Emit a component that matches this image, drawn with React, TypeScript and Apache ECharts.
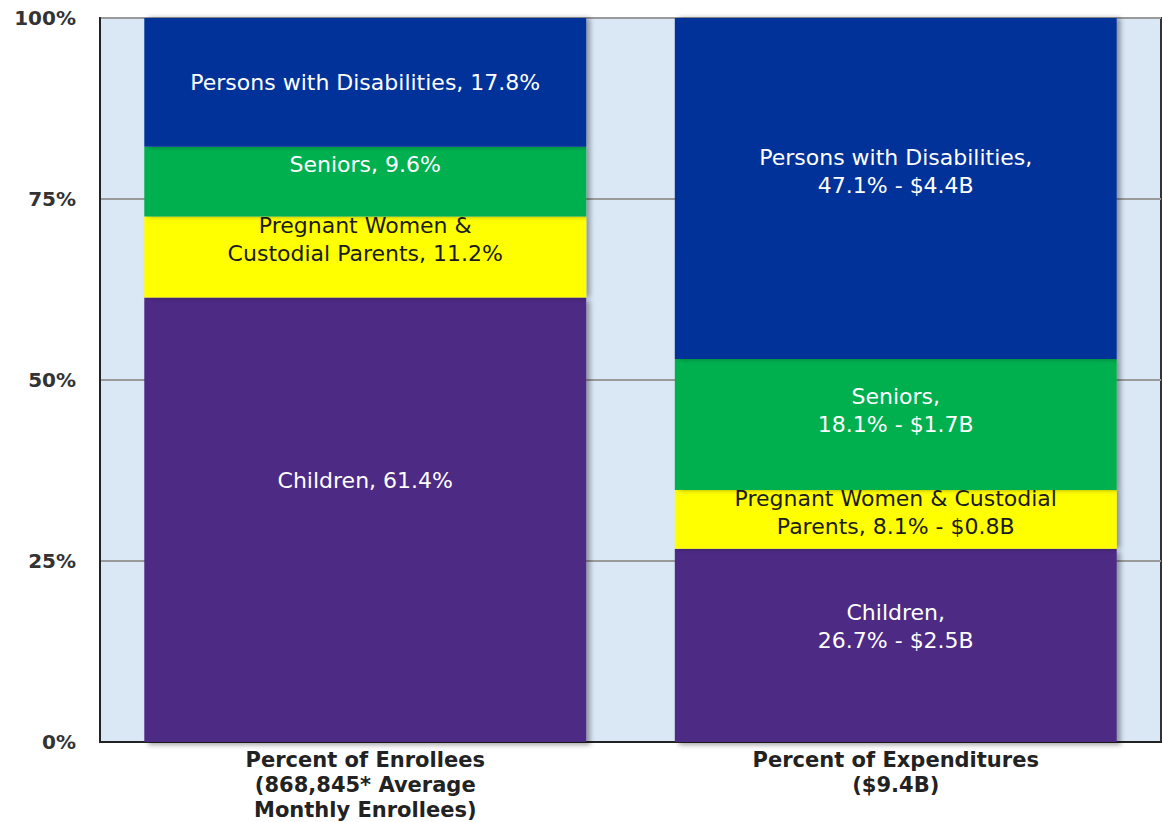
import React, { useEffect, useRef } from "react";
import * as echarts from "echarts";

const categories = [
  "Percent of Enrollees\n(868,845* Average\nMonthly Enrollees)",
  "Percent of Expenditures\n($9.4B)",
];
const seriesNames = [
  "Children",
  "Pregnant Women & Custodial Parents",
  "Seniors",
  "Persons with Disabilities",
];
const enrolleePct = [61.4, 11.2, 9.6, 17.8];
const expenditurePct = [26.7, 8.1, 18.1, 47.1];
const enrolleeLabels = [
  "Children, 61.4%",
  "Pregnant Women &\nCustodial Parents, 11.2%",
  "Seniors, 9.6%",
  "Persons with Disabilities, 17.8%",
];
const expenditureLabels = [
  "Children,\n26.7% - $2.5B",
  "Pregnant Women & Custodial\nParents, 8.1% - $0.8B",
  "Seniors,\n18.1% - $1.7B",
  "Persons with Disabilities,\n47.1% - $4.4B",
];
const yTicks = [0, 25, 50, 75, 100];

// styling
const colors = ["#4E2A84", "#FFFF00", "#00B050", "#003399"];
const labelColors = ["#FFFFFF", "#1A1A1A", "#FFFFFF", "#FFFFFF"];
const labelOffsets = [
  [-39, -19],
  [-17, -7],
  [-17, -14],
  [0, -17],
];

export default function App() {
  const ref = useRef<HTMLDivElement>(null);
  useEffect(() => {
    if (!ref.current) return;
    const chart = echarts.init(ref.current, null, { renderer: "svg" });
    const series = seriesNames.map((name, i) => ({
      name,
      type: "bar",
      stack: "total",
      barWidth: "83.3%",
      z: 2,
      itemStyle: {
        color: colors[i],
        shadowColor: "rgba(0,0,0,0.35)",
        shadowBlur: 5,
        shadowOffsetX: 4,
        shadowOffsetY: i === 0 ? 3 : 0,
      },
      label: {
        show: true,
        position: "inside",
        fontFamily: "DejaVu Sans",
        fontSize: 22,
        lineHeight: 28,
        color: labelColors[i],
        textBorderWidth: 0,
      },
      data: [
        {
          value: enrolleePct[i],
          label: { formatter: enrolleeLabels[i], offset: [0, labelOffsets[i][0]] },
        },
        {
          value: expenditurePct[i],
          label: { formatter: expenditureLabels[i], offset: [0, labelOffsets[i][1]] },
        },
      ],
    }));
    chart.setOption({
      animation: false,
      backgroundColor: "#FFFFFF",
      grid: {
        left: 100,
        top: 18,
        right: 1,
        bottom: 75,
        show: true,
        backgroundColor: "#DAE8F6",
        borderColor: "#333333",
        borderWidth: 2,
        containLabel: false,
      },
      xAxis: {
        type: "category",
        data: categories,
        axisTick: { show: false },
        axisLine: { show: true, lineStyle: { color: "#222222", width: 2 } },
        axisLabel: {
          fontFamily: "DejaVu Sans",
          fontWeight: "bold",
          fontSize: 21,
          lineHeight: 25,
          color: "#222222",
          margin: 5,
        },
      },
      yAxis: {
        type: "value",
        min: yTicks[0],
        max: yTicks[yTicks.length - 1],
        interval: 25,
        axisLine: { show: true, lineStyle: { color: "#222222", width: 2 } },
        axisTick: { show: false },
        splitLine: { show: true, lineStyle: { color: "#9A9A9A", width: 2 } },
        axisLabel: {
          formatter: "{value}%",
          fontFamily: "DejaVu Sans",
          fontWeight: "bold",
          fontSize: 20,
          color: "#333333",
          margin: 24,
        },
      },
      series,
    });
    return () => chart.dispose();
  }, []);
  return (
    <div
      ref={ref}
      style={{ position: "absolute", left: 0, top: 0, width: 1162, height: 822 }}
    />
  );
}
